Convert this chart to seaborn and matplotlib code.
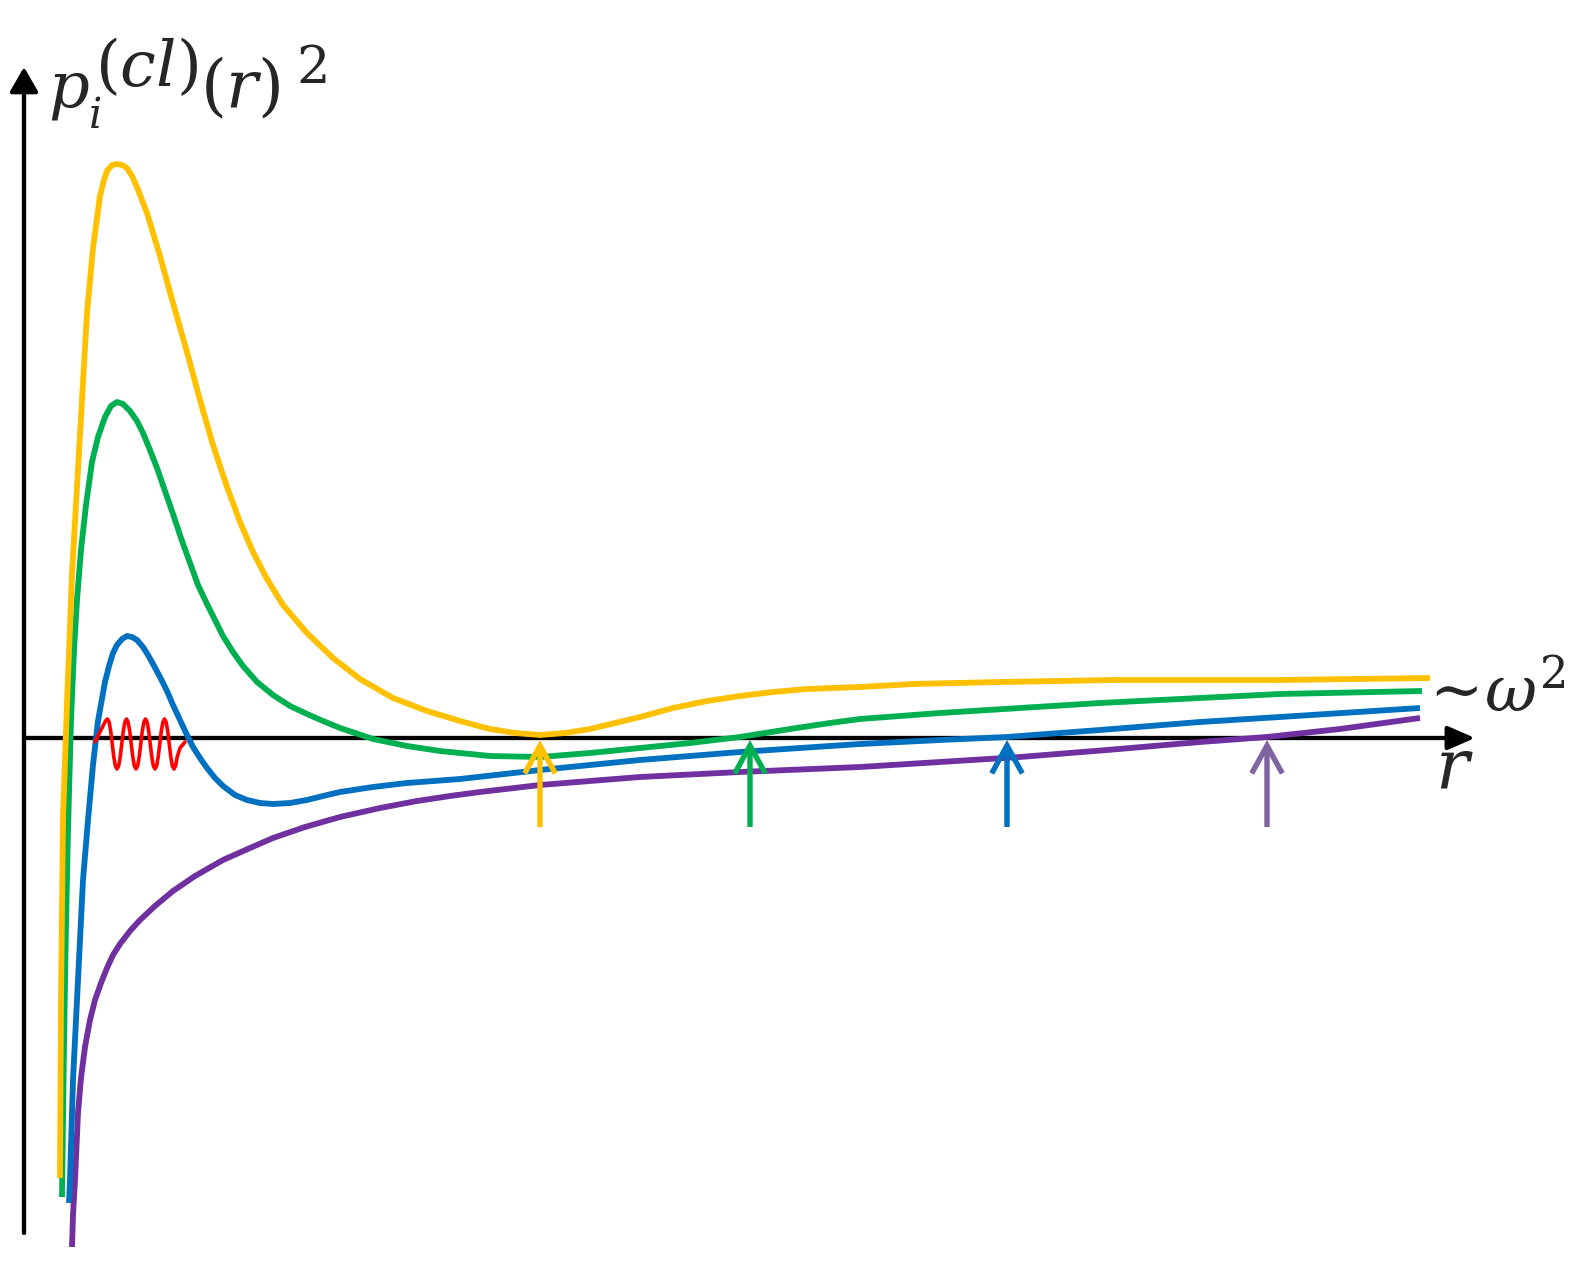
import matplotlib
matplotlib.use("Agg")
import matplotlib.pyplot as plt
import seaborn as sns
import pandas as pd
from matplotlib.patches import FancyArrowPatch

# ---------------- data (arbitrary units) ----------------
yellow_r = [0.36, 0.37, 0.39, 0.43, 0.48, 0.53, 0.58, 0.63, 0.69, 0.76,
            0.80, 0.83, 0.88, 0.93, 0.98, 1.03, 1.08, 1.13, 1.23, 1.36,
            1.49, 1.63, 1.76, 1.89, 2.03, 2.16, 2.29, 2.43, 2.59, 2.83,
            3.09, 3.36, 3.69, 4.03, 4.36, 4.66, 4.91, 5.16, 5.41, 5.66,
            5.91, 6.16, 6.49, 6.83, 7.16, 7.49, 7.83, 8.36, 8.89, 9.76,
            10.91, 12.56, 14.06]
yellow_p = [-4.40, -2.62, -0.79, 0.34, 1.64, 2.51, 3.38, 4.25, 4.90, 5.42,
            5.58, 5.67, 5.73, 5.74, 5.73, 5.70, 5.62, 5.51, 5.25, 4.82,
            4.35, 3.86, 3.38, 2.93, 2.51, 2.16, 1.86, 1.59, 1.33, 1.05,
            0.80, 0.59, 0.40, 0.27, 0.17, 0.09, 0.05, 0.03, 0.05, 0.09,
            0.15, 0.21, 0.30, 0.37, 0.42, 0.46, 0.49, 0.51, 0.54, 0.56,
            0.58, 0.58, 0.60]

green_r = [0.38, 0.395, 0.415, 0.44, 0.47, 0.50, 0.53, 0.57, 0.62, 0.68,
           0.74, 0.81, 0.87, 0.93, 0.99, 1.06, 1.13, 1.19, 1.26, 1.33,
           1.41, 1.49, 1.57, 1.66, 1.74, 1.83, 1.91, 1.99, 2.09, 2.19,
           2.33, 2.49, 2.66, 2.83, 2.99, 3.16, 3.49, 3.83, 4.16, 4.66,
           5.16, 5.66, 6.16, 6.66, 7.16, 7.66, 8.06, 8.36, 8.76, 9.16,
           9.96, 10.76, 11.76, 12.56, 13.98]
green_p = [-4.59, -3.42, -2.12, -0.92, 0.18, 0.88, 1.38, 1.88, 2.33, 2.76,
           3.01, 3.21, 3.32, 3.36, 3.34, 3.27, 3.17, 3.05, 2.88, 2.70,
           2.47, 2.24, 2.00, 1.75, 1.53, 1.34, 1.18, 1.02, 0.86, 0.72,
           0.56, 0.43, 0.32, 0.24, 0.17, 0.10, -0.01, -0.08, -0.13, -0.18,
           -0.19, -0.15, -0.10, -0.05, 0.01, 0.09, 0.15, 0.19, 0.22, 0.25,
           0.30, 0.35, 0.40, 0.44, 0.47]

blue_r = [0.45, 0.46, 0.49, 0.54, 0.59, 0.64, 0.69, 0.74, 0.81, 0.85,
          0.89, 0.93, 0.98, 1.03, 1.08, 1.13, 1.19, 1.24, 1.29, 1.36,
          1.43, 1.49, 1.56, 1.63, 1.69, 1.76, 1.83, 1.91, 1.99, 2.11,
          2.23, 2.36, 2.49, 2.66, 2.83, 2.99, 3.16, 3.49, 3.83, 4.36,
          5.16, 6.16, 7.16, 8.36, 9.16, 9.83, 10.76, 11.76, 12.56, 13.96]
blue_p = [-4.65, -4.42, -3.42, -2.42, -1.42, -0.82, -0.27, 0.17, 0.56, 0.72,
          0.85, 0.93, 0.99, 1.02, 1.01, 0.98, 0.91, 0.83, 0.74, 0.61,
          0.47, 0.33, 0.18, 0.03, -0.09, -0.20, -0.30, -0.40, -0.48, -0.57,
          -0.62, -0.65, -0.66, -0.65, -0.62, -0.58, -0.54, -0.49, -0.45, -0.41,
          -0.32, -0.22, -0.14, -0.06, -0.02, 0.01, 0.08, 0.16, 0.21, 0.30]

purple_r = [0.48, 0.49, 0.51, 0.54, 0.57, 0.61, 0.66, 0.71, 0.77, 0.83,
            0.89, 0.96, 1.06, 1.16, 1.31, 1.49, 1.71, 1.99, 2.26, 2.49,
            2.81, 3.16, 3.56, 3.93, 4.26, 4.56, 5.16, 6.16, 7.16, 8.36,
            9.16, 9.96, 10.83, 11.76, 12.43, 13.16, 13.96]
purple_p = [-5.09, -4.77, -4.42, -3.75, -3.40, -3.09, -2.82, -2.62, -2.45, -2.30,
            -2.17, -2.06, -1.93, -1.82, -1.68, -1.53, -1.38, -1.22, -1.10, -1.00,
            -0.89, -0.79, -0.70, -0.63, -0.58, -0.54, -0.47, -0.39, -0.34, -0.29,
            -0.24, -0.19, -0.12, -0.04, 0.01, 0.09, 0.20]

wave_r = [0.71, 0.75, 0.79, 0.815, 0.835,
          0.851, 0.867, 0.8825, 0.898, 0.914, 0.93,
          0.946, 0.962, 0.9775, 0.993, 1.009, 1.025,
          1.041, 1.057, 1.0725, 1.088, 1.104, 1.12,
          1.136, 1.152, 1.1675, 1.183, 1.199, 1.215,
          1.231, 1.247, 1.2625, 1.278, 1.294, 1.31,
          1.326, 1.342, 1.3575, 1.373, 1.389, 1.405,
          1.421, 1.437, 1.4525, 1.468, 1.484, 1.50,
          1.516, 1.532, 1.56, 1.61]
wave_p = [-0.04, 0.04, 0.12, 0.17, 0.19,
          0.16, 0.07, -0.06, -0.19, -0.28, -0.31,
          -0.28, -0.19, -0.06, 0.07, 0.16, 0.19,
          0.16, 0.07, -0.06, -0.19, -0.28, -0.31,
          -0.28, -0.19, -0.06, 0.07, 0.16, 0.19,
          0.16, 0.07, -0.06, -0.19, -0.28, -0.31,
          -0.28, -0.19, -0.06, 0.07, 0.16, 0.19,
          0.16, 0.07, -0.06, -0.19, -0.28, -0.31,
          -0.28, -0.19, -0.10, -0.04]

# turning points marked with arrows (r positions)
turn_r = [5.16, 7.26, 9.83, 12.43]
turn_colors = ["#FFC000", "#00B050", "#0070C0", "#8064A2"]

# ---------------- figure ----------------
sns.set_theme(style="white")
plt.rcParams["mathtext.fontset"] = "dejavuserif"
plt.rcParams["font.family"] = ["DejaVu Serif"]

fig = plt.figure(figsize=(15.9, 12.66), dpi=100)
ax = fig.add_axes([0, 0, 1, 1])
ax.set_xlim(-0.24, 15.66)
ax.set_ylim(-5.28, 7.38)
ax.axis("off")

# coordinate axes with filled arrow heads
ax.add_patch(FancyArrowPatch((0.0, -4.95), (0.0, 6.71), arrowstyle="-|>,head_length=15,head_width=8.6",
                             mutation_scale=1, lw=3.1, color="black", shrinkA=0, shrinkB=0, zorder=2))
ax.add_patch(FancyArrowPatch((0.0, 0.0), (14.51, 0.0), arrowstyle="-|>,head_length=16.5,head_width=7.2",
                             mutation_scale=1, lw=3.1, color="black", shrinkA=0, shrinkB=0, zorder=2))

curves = [
    (purple_r, purple_p, "#7030A0"),
    (blue_r, blue_p, "#0070C0"),
    (green_r, green_p, "#00B050"),
    (yellow_r, yellow_p, "#FFC000"),
]
for rr, pp, col in curves:
    df = pd.DataFrame({"r": rr, "p": pp})
    sns.lineplot(data=df, x="r", y="p", sort=False, estimator=None, color=col, linewidth=4.2, ax=ax,
                 zorder=3, solid_capstyle="butt", solid_joinstyle="round")

wdf = pd.DataFrame({"r": wave_r, "p": wave_p})
sns.lineplot(data=wdf, x="r", y="p", sort=False, estimator=None, color="#FF0000", linewidth=2.6, ax=ax,
             zorder=4, solid_joinstyle="round", solid_capstyle="round")

for tr, col in zip(turn_r, turn_colors):
    ax.add_patch(FancyArrowPatch((tr, -0.89), (tr, -0.02), arrowstyle="->,head_length=20,head_width=11",
                                 mutation_scale=1, lw=3.9, color=col, shrinkA=0, shrinkB=0, zorder=5,
                                 capstyle="butt", joinstyle="miter"))

# y-axis label  p_i^(cl)(r)^2, composed in pieces
ax.text(0.24, 6.31, r"$p$", fontsize=46, ha="left", va="baseline")
ax.text(0.64, 6.10, r"$i$", fontsize=30, ha="left", va="baseline")
ax.text(0.71, 6.52, r"$(cl)$", fontsize=46, ha="left", va="baseline")
ax.text(1.76, 6.30, r"$(r)$", fontsize=48, ha="left", va="baseline")
ax.text(2.72, 6.55, r"$2$", fontsize=38, ha="left", va="baseline")

# asymptote and x-axis labels
ax.text(13.93, 0.26, r"$\sim\!\omega^2$", fontsize=46, ha="left", va="baseline")
ax.text(14.11, -0.49, r"$r$", fontsize=50, ha="left", va="baseline")

fig.savefig("out.png", dpi=100)
